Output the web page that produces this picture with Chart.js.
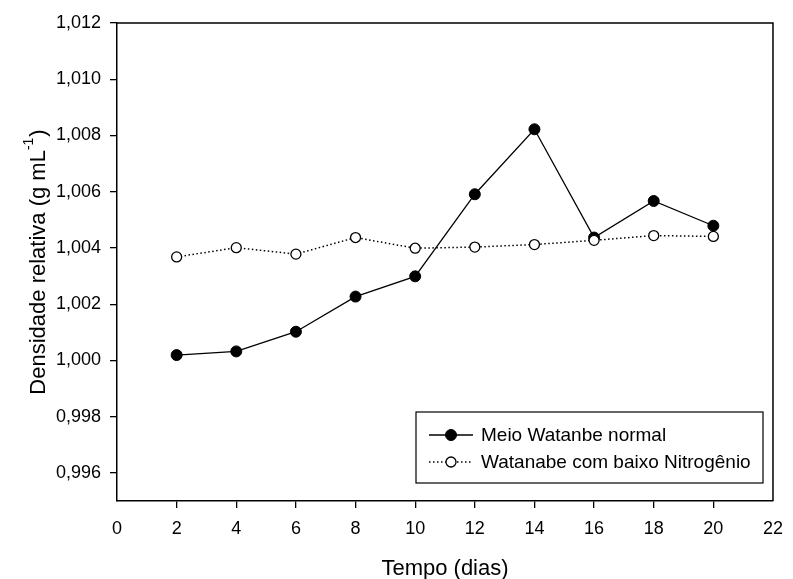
<!DOCTYPE html>
<html>
<head>
<meta charset="utf-8">
<script src="https://cdn.jsdelivr.net/npm/chart.js@4"></script>
<style>
html,body{margin:0;padding:0;background:#fff;}
#wrap{width:793px;height:579px;}
</style>
</head>
<body>
<div id="wrap"><canvas id="c" width="793" height="579"></canvas></div>
<script>
const days = [2, 4, 6, 8, 10, 12, 14, 16, 18, 20];
const normalValues = [1.00019, 1.00032, 1.00102, 1.00227, 1.00299, 1.00591, 1.00822, 1.00437, 1.00567, 1.00479];
const lowNitrogenValues = [1.00368, 1.00401, 1.00378, 1.00437, 1.00399, 1.00403, 1.00412, 1.00427, 1.00444, 1.00441];
const xTickValues = [0, 2, 4, 6, 8, 10, 12, 14, 16, 18, 20, 22];
const yTickValues = [0.996, 0.998, 1.000, 1.002, 1.004, 1.006, 1.008, 1.010, 1.012];
const seriesNames = ['Meio Watanbe normal', 'Watanabe com baixo Nitrogênio'];
const xTitle = 'Tempo (dias)';
const yTitleMain = 'Densidade relativa (g mL';
const yTitleSup = '-1';
const yTitleEnd = ')';

const FONT = "'Liberation Sans', Arial, sans-serif";

const framePlugin = {
  id: 'frame',
  afterDraw(chart) {
    const {ctx, chartArea: a} = chart;
    ctx.save();
    ctx.strokeStyle = '#000';
    ctx.lineWidth = 1.5;
    ctx.beginPath();
    ctx.moveTo(a.left, a.top);
    ctx.lineTo(a.right, a.top);
    ctx.lineTo(a.right, a.bottom);
    ctx.stroke();
    ctx.restore();
  }
};

const titlesPlugin = {
  id: 'titles',
  afterDraw(chart) {
    const {ctx, chartArea: a} = chart;
    ctx.save();
    ctx.fillStyle = '#000';
    ctx.textBaseline = 'alphabetic';
    // x title
    ctx.font = '22px ' + FONT;
    ctx.textAlign = 'center';
    ctx.fillText(xTitle, (a.left + a.right) / 2, 575);
    // y title (rotated) with superscript
    const mainFont = '22px ' + FONT;
    const supFont = '14px ' + FONT;
    ctx.font = mainFont;
    const wMain = ctx.measureText(yTitleMain).width;
    const wEnd = ctx.measureText(yTitleEnd).width;
    ctx.font = supFont;
    const wSup = ctx.measureText(yTitleSup).width;
    const total = wMain + wSup + wEnd + 1;
    ctx.translate(45, (a.top + a.bottom) / 2);
    ctx.rotate(-Math.PI / 2);
    ctx.textAlign = 'left';
    let x = -total / 2;
    ctx.font = mainFont;
    ctx.fillText(yTitleMain, x, 0);
    x += wMain;
    ctx.font = supFont;
    ctx.fillText(yTitleSup, x, -12);
    x += wSup + 1;
    ctx.font = mainFont;
    ctx.fillText(yTitleEnd, x, 0);
    ctx.restore();
  }
};

const legendPlugin = {
  id: 'boxLegend',
  afterDraw(chart) {
    const {ctx} = chart;
    const box = {x: 416, y: 412, w: 347, h: 71};
    ctx.save();
    ctx.fillStyle = '#fff';
    ctx.fillRect(box.x, box.y, box.w, box.h);
    ctx.strokeStyle = '#000';
    ctx.lineWidth = 1.2;
    ctx.strokeRect(box.x, box.y, box.w, box.h);
    const rows = [435, 462];
    chart.data.datasets.forEach((ds, i) => {
      const y = rows[i];
      ctx.save();
      ctx.strokeStyle = ds.borderColor;
      ctx.lineWidth = ds.borderWidth;
      ctx.setLineDash(ds.borderDash || []);
      ctx.beginPath();
      ctx.moveTo(429, y);
      ctx.lineTo(473, y);
      ctx.stroke();
      ctx.setLineDash([]);
      ctx.beginPath();
      ctx.arc(451, y, ds.pointRadius, 0, Math.PI * 2);
      ctx.fillStyle = ds.pointBackgroundColor;
      ctx.fill();
      ctx.lineWidth = ds.pointBorderWidth;
      ctx.strokeStyle = ds.pointBorderColor;
      ctx.stroke();
      ctx.restore();
      ctx.fillStyle = '#000';
      ctx.font = '19px ' + FONT;
      ctx.textAlign = 'left';
      ctx.textBaseline = 'middle';
      ctx.fillText(ds.label, 481, y + 1);
    });
    ctx.restore();
  }
};

const toPoints = (xs, ys) => xs.map((x, i) => ({x: x, y: ys[i]}));

new Chart(document.getElementById('c'), {
  type: 'line',
  data: {
    datasets: [
      {
        label: seriesNames[0],
        data: toPoints(days, normalValues),
        borderColor: '#000',
        borderWidth: 1.3,
        pointRadius: 5.5,
        pointBackgroundColor: '#000',
        pointBorderColor: '#000',
        pointBorderWidth: 1,
        tension: 0,
        order: 1
      },
      {
        label: seriesNames[1],
        data: toPoints(days, lowNitrogenValues),
        borderColor: '#000',
        borderWidth: 1.5,
        borderDash: [1.5, 2.5],
        pointRadius: 5,
        pointBackgroundColor: '#fff',
        pointBorderColor: '#000',
        pointBorderWidth: 1.3,
        tension: 0,
        order: 0
      }
    ]
  },
  options: {
    responsive: false,
    animation: false,
    devicePixelRatio: 1,
    layout: {padding: {top: 23, right: 11.5, left: 0, bottom: 0}},
    plugins: {legend: {display: false}, tooltip: {enabled: false}},
    scales: {
      x: {
        type: 'linear',
        min: 0,
        max: 22,
        afterBuildTicks: s => { s.ticks = xTickValues.map(v => ({value: v})); },
        afterFit: s => { s.height = 78; },
        grid: {
          drawOnChartArea: false,
          drawTicks: true,
          tickLength: 7,
          lineWidth: 1.3,
          color: c => (c.tick && (c.tick.value === 0 || c.tick.value === 22)) ? 'rgba(0,0,0,0)' : '#000'
        },
        border: {display: true, color: '#000', width: 1.5},
        ticks: {
          color: '#000',
          font: {family: FONT, size: 18},
          padding: 10,
          maxRotation: 0,
          autoSkip: false,
          callback: v => String(v)
        }
      },
      y: {
        type: 'linear',
        min: 0.995,
        max: 1.012,
        afterBuildTicks: s => { s.ticks = yTickValues.map(v => ({value: v})); },
        afterFit: s => { s.width = 117; },
        grid: {
          drawOnChartArea: false,
          drawTicks: true,
          tickLength: 7,
          lineWidth: 1.3,
          color: '#000'
        },
        border: {display: true, color: '#000', width: 1.5},
        ticks: {
          color: '#000',
          font: {family: FONT, size: 18},
          padding: 9,
          autoSkip: false,
          callback: v => Number(v).toFixed(3).replace('.', ',')
        }
      }
    }
  },
  plugins: [framePlugin, titlesPlugin, legendPlugin]
});
</script>
</body>
</html>
